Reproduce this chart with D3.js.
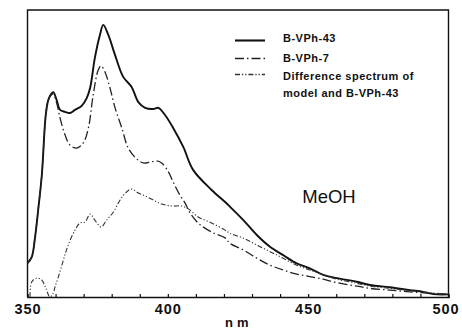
<!DOCTYPE html>
<html>
<head>
<meta charset="utf-8">
<script src="https://cdn.jsdelivr.net/npm/d3@7"></script>
<style>
  html, body { margin: 0; padding: 0; background: #fff; }
  svg { display: block; }
  text { font-family: "Liberation Sans", Arial, Helvetica, sans-serif; fill: #111; }
</style>
</head>
<body>
<svg id="chart" width="462" height="329"></svg>
<script>
// wavelength (nm) and relative fluorescence intensity (arbitrary units, 0-100)
const bvph43 = [
  [350.0,11.8],[351.5,13.9],[352.7,20.9],[353.8,30.3],[355.1,42.5],[356.5,63.4],[357.4,68.6],
  [358.4,70.7],[359.2,71.4],[360.4,68.6],[361.6,65.2],[363.4,64.5],[365.1,64.1],[366.9,65.2],
  [369.3,66.6],[371.1,69.3],[372.3,72.8],[374.0,83.3],[375.8,91.3],[377.0,94.8],[378.8,91.3],
  [381.2,84.3],[384.1,76.7],[387.1,73.2],[389.5,67.9],[391.9,65.9],[394.8,65.5],[396.6,65.9],
  [399.0,63.4],[401.9,58.9],[405.5,52.3],[409.0,44.3],[415.6,37.3],[420.4,33.1],[422.1,31.5],
  [426.9,26.8],[431.7,21.6],[436.4,17.5],[441.1,14.6],[445.9,11.7],[450.6,10.0],[455.4,7.7],
  [460.2,6.6],[467.3,5.3],[472.0,4.2],[479.1,3.4],[486.3,2.4],[491.0,1.8],[494.6,1.0],[500.0,0.9]
];
const bvph7 = [
  [350.0,11.8],[351.5,13.9],[352.7,20.9],[353.8,30.3],[355.1,42.5],[356.5,63.4],[357.4,68.6],
  [358.4,70.4],[359.2,70.7],[360.4,67.6],[361.6,62.4],[363.4,56.4],[365.1,53.0],[367.5,51.9],
  [369.9,53.7],[371.7,58.9],[373.4,70.4],[375.2,79.1],[376.2,80.5],[377.6,78.4],[379.4,72.8],
  [381.2,65.9],[383.6,58.9],[385.9,51.9],[388.9,48.1],[391.3,46.7],[393.6,47.0],[396.0,47.4],
  [397.8,46.7],[400.2,43.6],[401.9,40.1],[404.3,35.5],[406.1,32.8],[407.9,29.3],[410.8,25.8],
  [415.6,22.6],[420.4,20.6],[422.1,18.7],[426.9,16.4],[431.7,13.5],[436.4,11.1],[441.1,9.4],
  [445.9,8.0],[450.6,7.1],[455.4,6.2],[460.2,5.0],[467.3,3.8],[472.0,3.0],[479.1,2.4],
  [486.3,1.8],[493.4,1.3],[500.0,0.9]
];
const difference = [
  [350.9,0.0],[351.5,5.2],[353.3,6.6],[355.1,5.9],[356.5,3.1],[358.0,0.0],[359.2,1.4],
  [359.8,3.5],[361.0,7.0],[362.8,12.9],[364.5,18.1],[366.9,23.3],[368.7,25.8],[370.5,26.1],
  [372.3,28.9],[374.0,26.8],[376.2,24.4],[378.2,26.8],[380.6,29.6],[383.0,33.8],[385.3,36.6],
  [387.1,37.6],[389.5,36.2],[391.9,35.2],[394.8,33.8],[397.8,32.4],[401.4,31.7],[404.9,31.7],
  [407.3,30.7],[410.8,27.9],[415.6,25.8],[420.4,23.3],[422.1,22.2],[426.9,20.5],[431.7,18.1],
  [436.4,15.8],[441.1,13.5],[445.9,11.1],[450.6,9.4],[455.4,7.7],[460.2,6.2],[467.3,4.8],
  [472.0,3.8],[479.1,3.0],[486.3,2.2],[493.4,1.5],[500.0,0.9]
];
const seriesNames = ["B-VPh-43", "B-VPh-7", "Difference spectrum of", "model and B-VPh-43"];
const majorTicks = [350, 400, 450, 500];
const minorTicks = [360, 370, 380, 390, 410, 420, 430, 440, 460, 470, 480, 490];
const xTitle = "nm";
const solventLabel = "MeOH";

const svg = d3.select("#chart");
const L = 27.5, R = 448.5, T = 10, B = 297;
const x = d3.scaleLinear().domain([350, 500]).range([L, R]);
const y = d3.scaleLinear().domain([0, 100]).range([B, T]);

// frame
svg.append("path")
  .attr("d", `M${L},${B}V${T}H${R}V${B}`)
  .attr("fill", "none").attr("stroke", "#111").attr("stroke-width", 1.4);

// bottom axis with inward ticks
const gx = svg.append("g").attr("transform", `translate(0,${B})`);
gx.call(d3.axisBottom(x).tickValues(minorTicks.concat([400, 450])).tickSize(-3).tickFormat(""));
gx.select(".domain").attr("stroke", "#111").attr("stroke-width", 1.6);
gx.selectAll(".tick line").attr("stroke", "#111").attr("stroke-width", 1.2);

svg.append("g").selectAll("text").data(majorTicks).join("text")
  .attr("x", d => Math.min(x(d) + 0.5, 446))
  .attr("y", 314)
  .attr("text-anchor", "middle")
  .style("font-size", "14.5px").style("font-weight", "bold").style("letter-spacing", "1px")
  .text(d => d);

svg.append("text")
  .attr("x", 225).attr("y", 327)
  .style("font-size", "13px").style("font-weight", "bold").style("letter-spacing", "4px")
  .text(xTitle);

const line = d3.line().x(d => x(d[0])).y(d => y(d[1])).curve(d3.curveCatmullRom.alpha(0.5));

const styles = [
  { data: bvph43, width: 1.9, dash: null, color: "#111" },
  { data: bvph7, width: 1.3, dash: "9,3,1.5,3", color: "#222" },
  { data: difference, width: 1.1, dash: "5,2,1.2,2,1.2,2", color: "#333" }
];

svg.append("g").selectAll("path").data(styles).join("path")
  .attr("d", s => line(s.data))
  .attr("fill", "none")
  .attr("stroke", s => s.color)
  .attr("stroke-width", s => s.width)
  .attr("stroke-dasharray", s => s.dash)
  .attr("stroke-linejoin", "round");

// legend
const legendLineY = [40.5, 58.5, 74.5];
const lg = svg.append("g");
lg.selectAll("line").data(styles).join("line")
  .attr("x1", 235).attr("x2", 265)
  .attr("y1", (s, i) => legendLineY[i]).attr("y2", (s, i) => legendLineY[i])
  .attr("stroke", s => s.color)
  .attr("stroke-width", s => s.width + 0.2)
  .attr("stroke-dasharray", s => s.dash);

const legendTextY = [41.5, 62, 79.5, 96.5];
lg.selectAll("text").data(seriesNames).join("text")
  .attr("x", 283).attr("y", (d, i) => legendTextY[i])
  .style("font-size", "11px").style("font-weight", "bold").style("letter-spacing", "0.5px")
  .text(d => d);

svg.append("text")
  .attr("x", 329).attr("y", 203)
  .attr("text-anchor", "middle")
  .style("font-size", "18.5px")
  .text(solventLabel);
</script>
</body>
</html>
